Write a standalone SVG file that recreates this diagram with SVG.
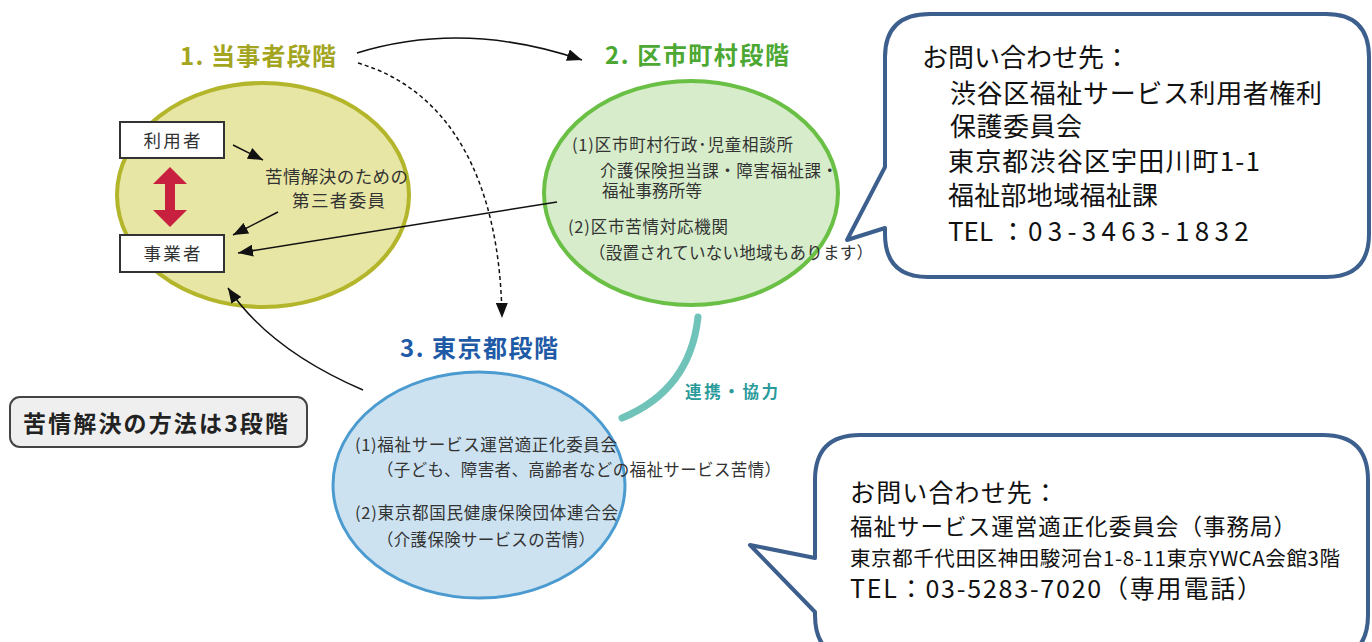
<svg xmlns="http://www.w3.org/2000/svg" width="1372" height="642" viewBox="0 0 1372 642">
<style>
  text { font-family: "Noto Sans CJK JP", "Noto Sans", sans-serif; }
  .title { font-size: 24px; font-weight: bold; }
  .body { font-size: 16.5px; fill: #333; }
  .box { fill: #fff; stroke: #333; stroke-width: 2; }
  .conn { fill: none; stroke: #111; stroke-width: 1.5; }
  .callout { fill: #fff; stroke: #3d5f8e; stroke-width: 4; stroke-linejoin: round; }
  .ct { font-size: 26px; fill: #111; }
</style>
<defs>
  <marker id="ah" markerWidth="16" markerHeight="12" refX="15" refY="6" orient="auto" markerUnits="userSpaceOnUse">
    <path d="M0,0 L15,6 L0,12 Z" fill="#111"/>
  </marker>
</defs>
<rect width="1372" height="642" fill="#fff"/>

<g id="stage1">
  <ellipse cx="263" cy="195" rx="146" ry="112" fill="#e8e6a4" stroke="#b3b52a" stroke-width="4"/>
  <text class="title" x="180" y="65" fill="#a3a51e" textLength="156">1. 当事者段階</text>
  <text class="body" x="265" y="183" style="font-size:17.5px" textLength="143">苦情解決のための</text>
  <text class="body" x="292" y="207" style="font-size:17.5px" textLength="93">第三者委員</text>
  <polygon points="170,167 187,184 175,184 175,210 187,210 170,227 153,210 165,210 165,184 153,184" fill="#c8203f"/>
</g>
<g id="user">
  <rect class="box" x="120" y="122" width="104" height="36"/>
  <text class="body" x="172" y="147" style="font-size:17.5px" text-anchor="middle" textLength="57">利用者</text>
</g>
<g id="provider">
  <rect class="box" x="120" y="235" width="104" height="37"/>
  <text class="body" x="172" y="260" style="font-size:17.5px" text-anchor="middle" textLength="57">事業者</text>
</g>

<g id="stage2">
  <ellipse cx="691" cy="193" rx="147" ry="112" fill="#d6ecca" stroke="#6abf45" stroke-width="4"/>
  <text class="title" x="605" y="64" fill="#4ca832" textLength="184">2. 区市町村段階</text>
  <text class="body" x="572" y="151" textLength="221">(1)区市町村行政･児童相談所</text>
  <text class="body" x="600" y="177" textLength="238">介護保険担当課・障害福祉課・</text>
  <text class="body" x="602" y="197" textLength="100">福祉事務所等</text>
  <text class="body" x="568" y="233" textLength="160">(2)区市苦情対応機関</text>
  <text class="body" x="589" y="259" textLength="284">（設置されていない地域もあります）</text>
</g>

<g id="stage3">
  <ellipse cx="479" cy="485" rx="146" ry="113" fill="#cce2f0" stroke="#4b9bd0" stroke-width="3"/>
  <text class="title" x="400" y="357" fill="#1f5aa6" textLength="158">3. 東京都段階</text>
  <text class="body" x="355" y="451" textLength="262">(1)福祉サービス運営適正化委員会</text>
  <text class="body" x="377" y="476" textLength="404">（子ども、障害者、高齢者などの福祉サービス苦情）</text>
  <text class="body" x="355" y="519" textLength="263">(2)東京都国民健康保険団体連合会</text>
  <text class="body" x="377" y="546" textLength="218">（介護保険サービスの苦情）</text>
</g>

<g id="summary">
  <rect x="10" y="397" width="297" height="50" rx="10" fill="#efefef" stroke="#444" stroke-width="2"/>
  <text x="23" y="432" font-size="23" font-weight="bold" fill="#222" textLength="265">苦情解決の方法は3段階</text>
</g>

<g id="callout1">
  <path class="callout" d="M930,14 H1326 Q1369,14 1369,57 V234 Q1369,277 1326,277 H928 Q885,277 885,234 V228 L847,240 L885,167 V57 Q885,14 930,14 Z"/>
  <text class="ct" x="922" y="67" textLength="208">お問い合わせ先：</text>
  <text class="ct" x="950" y="103" textLength="372">渋谷区福祉サービス利用者権利</text>
  <text class="ct" x="950" y="136" textLength="132">保護委員会</text>
  <text class="ct" x="948" y="171" textLength="312">東京都渋谷区宇田川町1-1</text>
  <text class="ct" x="948" y="205" textLength="210">福祉部地域福祉課</text>
  <text class="ct" x="948" y="241"><tspan>TEL</tspan><tspan x="1000">：</tspan><tspan x="1028" letter-spacing="5.3">03-3463-1832</tspan></text>
</g>

<g id="callout2">
  <path class="callout" d="M860,435 H1323 Q1368,435 1368,480 V615 Q1368,660 1323,660 H860 Q815,660 815,615 V612 L750,545 L815,558 V480 Q815,435 860,435 Z"/>
  <text class="ct" x="850" y="502" style="font-size:25px" textLength="208">お問い合わせ先：</text>
  <text class="ct" x="850" y="535" style="font-size:22.5px" textLength="446">福祉サービス運営適正化委員会（事務局）</text>
  <text class="ct" x="850" y="566" style="font-size:20.5px" textLength="490">東京都千代田区神田駿河台1-8-11東京YWCA会館3階</text>
  <text class="ct" x="850" y="598" style="font-size:25px" textLength="412">TEL：03-5283-7020（専用電話）</text>
</g>

<g id="connectors">
  <path class="conn" d="M357,53 Q465,20 582,60" marker-end="url(#ah)"/>
  <path class="conn" d="M358,63 C450,90 500,180 502,318" stroke-dasharray="4,3" marker-end="url(#ah)"/>
  <path class="conn" d="M557,202 L238,253" marker-end="url(#ah)"/>
  <path class="conn" d="M363,390 Q270,350 228,288" marker-end="url(#ah)"/>
  <path class="conn" d="M233,145 L263,160" marker-end="url(#ah)"/>
  <path class="conn" d="M278,212 L233,235" marker-end="url(#ah)"/>
  <path d="M698,317 Q690,390 622,418" fill="none" stroke="#6fc3b9" stroke-width="7" stroke-linecap="round"/>
  <text x="685" y="398" font-size="16.5" font-weight="bold" fill="#2b9a9b" textLength="93">連携・協力</text>
</g>
</svg>
